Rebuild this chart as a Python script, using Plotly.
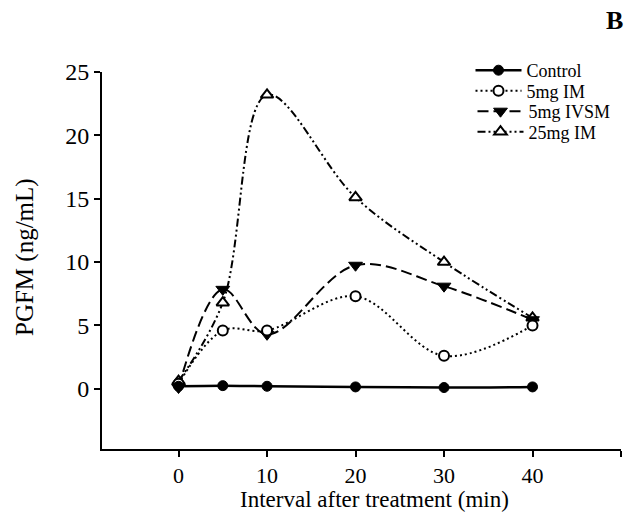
import plotly.graph_objects as go

minutes = [0, 5, 10, 20, 30, 40]
control = [0.2, 0.25, 0.2, 0.15, 0.1, 0.15]
im_5mg = [0.4, 4.6, 4.6, 7.3, 2.6, 5.0]
ivsm_5mg = [0.1, 7.85, 4.3, 9.75, 8.1, 5.45]
im_25mg = [0.6, 6.8, 23.2, 15.1, 10.0, 5.6]

x_tickvals = [0, 10, 20, 30, 40, 50]
x_ticktext = ["0", "10", "20", "30", "40", ""]
y_tickvals = [0, 5, 10, 15, 20, 25]

FONT = "Liberation Serif, Times New Roman, serif"

# plot area in pixels
L, R, T, B = 102, 6, 72, 76
W, H = 627, 525
PW, PH = W - L - R, H - T - B


def px_x(x):
    return (x - L) / PW


def px_y(y):
    return 1 + (T - y) / PH


fig = go.Figure()

fig.add_trace(go.Scatter(
    x=minutes, y=im_25mg, name="25mg IM", mode="lines+markers", legend="legend4",
    line=dict(color="black", width=2, shape="spline", smoothing=1,
              dash="8px,3px,2px,3px,2px,3px"),
    marker=dict(symbol="triangle-up", size=11, color="white",
                line=dict(color="black", width=2)),
))
fig.add_trace(go.Scatter(
    x=minutes, y=ivsm_5mg, name="5mg IVSM", mode="lines+markers", legend="legend3",
    line=dict(color="black", width=2, shape="spline", smoothing=1,
              dash="11px,5px"),
    marker=dict(symbol="triangle-down", size=12, color="black",
                line=dict(color="black", width=1)),
))
fig.add_trace(go.Scatter(
    x=minutes, y=im_5mg, name="5mg IM", mode="lines+markers", legend="legend2",
    line=dict(color="black", width=2, shape="spline", smoothing=1,
              dash="2px,3px"),
    marker=dict(symbol="circle", size=10, color="white",
                line=dict(color="black", width=2)),
))
fig.add_trace(go.Scatter(
    x=minutes, y=control, name="Control", mode="lines+markers", legend="legend",
    showlegend=True,
    line=dict(color="black", width=2.5, shape="spline", smoothing=1),
    marker=dict(symbol="circle", size=10, color="black",
                line=dict(color="black", width=1)),
))

row_y = [70.5, 91.0, 111.5, 132.0]
legend_common = dict(
    xanchor="left", yanchor="middle",
    font=dict(size=18, family=FONT),
    bgcolor="rgba(0,0,0,0)", itemwidth=46,
)

fig.update_layout(
    width=W, height=H,
    margin=dict(l=L, r=R, t=T, b=B),
    paper_bgcolor="white", plot_bgcolor="white",
    font=dict(family=FONT, color="black", size=23),
    showlegend=True,
    legend=dict(x=px_x(470.5), y=px_y(row_y[0]), **legend_common),
    legend2=dict(x=px_x(470.5), y=px_y(row_y[1]), **legend_common),
    legend3=dict(x=px_x(472.5), y=px_y(row_y[2]), **legend_common),
    legend4=dict(x=px_x(472.5), y=px_y(row_y[3]), **legend_common),
    xaxis=dict(
        range=[-8.65, 50.0], tickvals=x_tickvals, ticktext=x_ticktext,
        showline=True, linecolor="black", linewidth=2,
        ticks="outside", ticklen=6, tickwidth=2, tickcolor="black",
        showgrid=False, zeroline=False,
        tickfont=dict(size=22, family=FONT),
    ),
    yaxis=dict(
        range=[-4.75, 25.0], tickvals=y_tickvals,
        showline=True, linecolor="black", linewidth=2,
        ticks="outside", ticklen=6, tickwidth=2, tickcolor="black",
        showgrid=False, zeroline=False,
        tickfont=dict(size=24, family=FONT),
    ),
    annotations=[
        dict(text="<b>B</b>", x=px_x(614), y=px_y(21), xref="paper", yref="paper",
             xanchor="center", yanchor="middle",
             showarrow=False, font=dict(size=26, family=FONT)),
        dict(text="Interval after treatment (min)", x=px_x(374.5), y=px_y(499),
             xref="paper", yref="paper", xanchor="center", yanchor="middle",
             showarrow=False, font=dict(size=23, family=FONT)),
        dict(text="PGFM (ng/mL)", x=px_x(25), y=px_y(257), textangle=-90,
             xref="paper", yref="paper", xanchor="center", yanchor="middle",
             showarrow=False, font=dict(size=25, family=FONT)),
    ],
)

fig.write_html("out.html")
